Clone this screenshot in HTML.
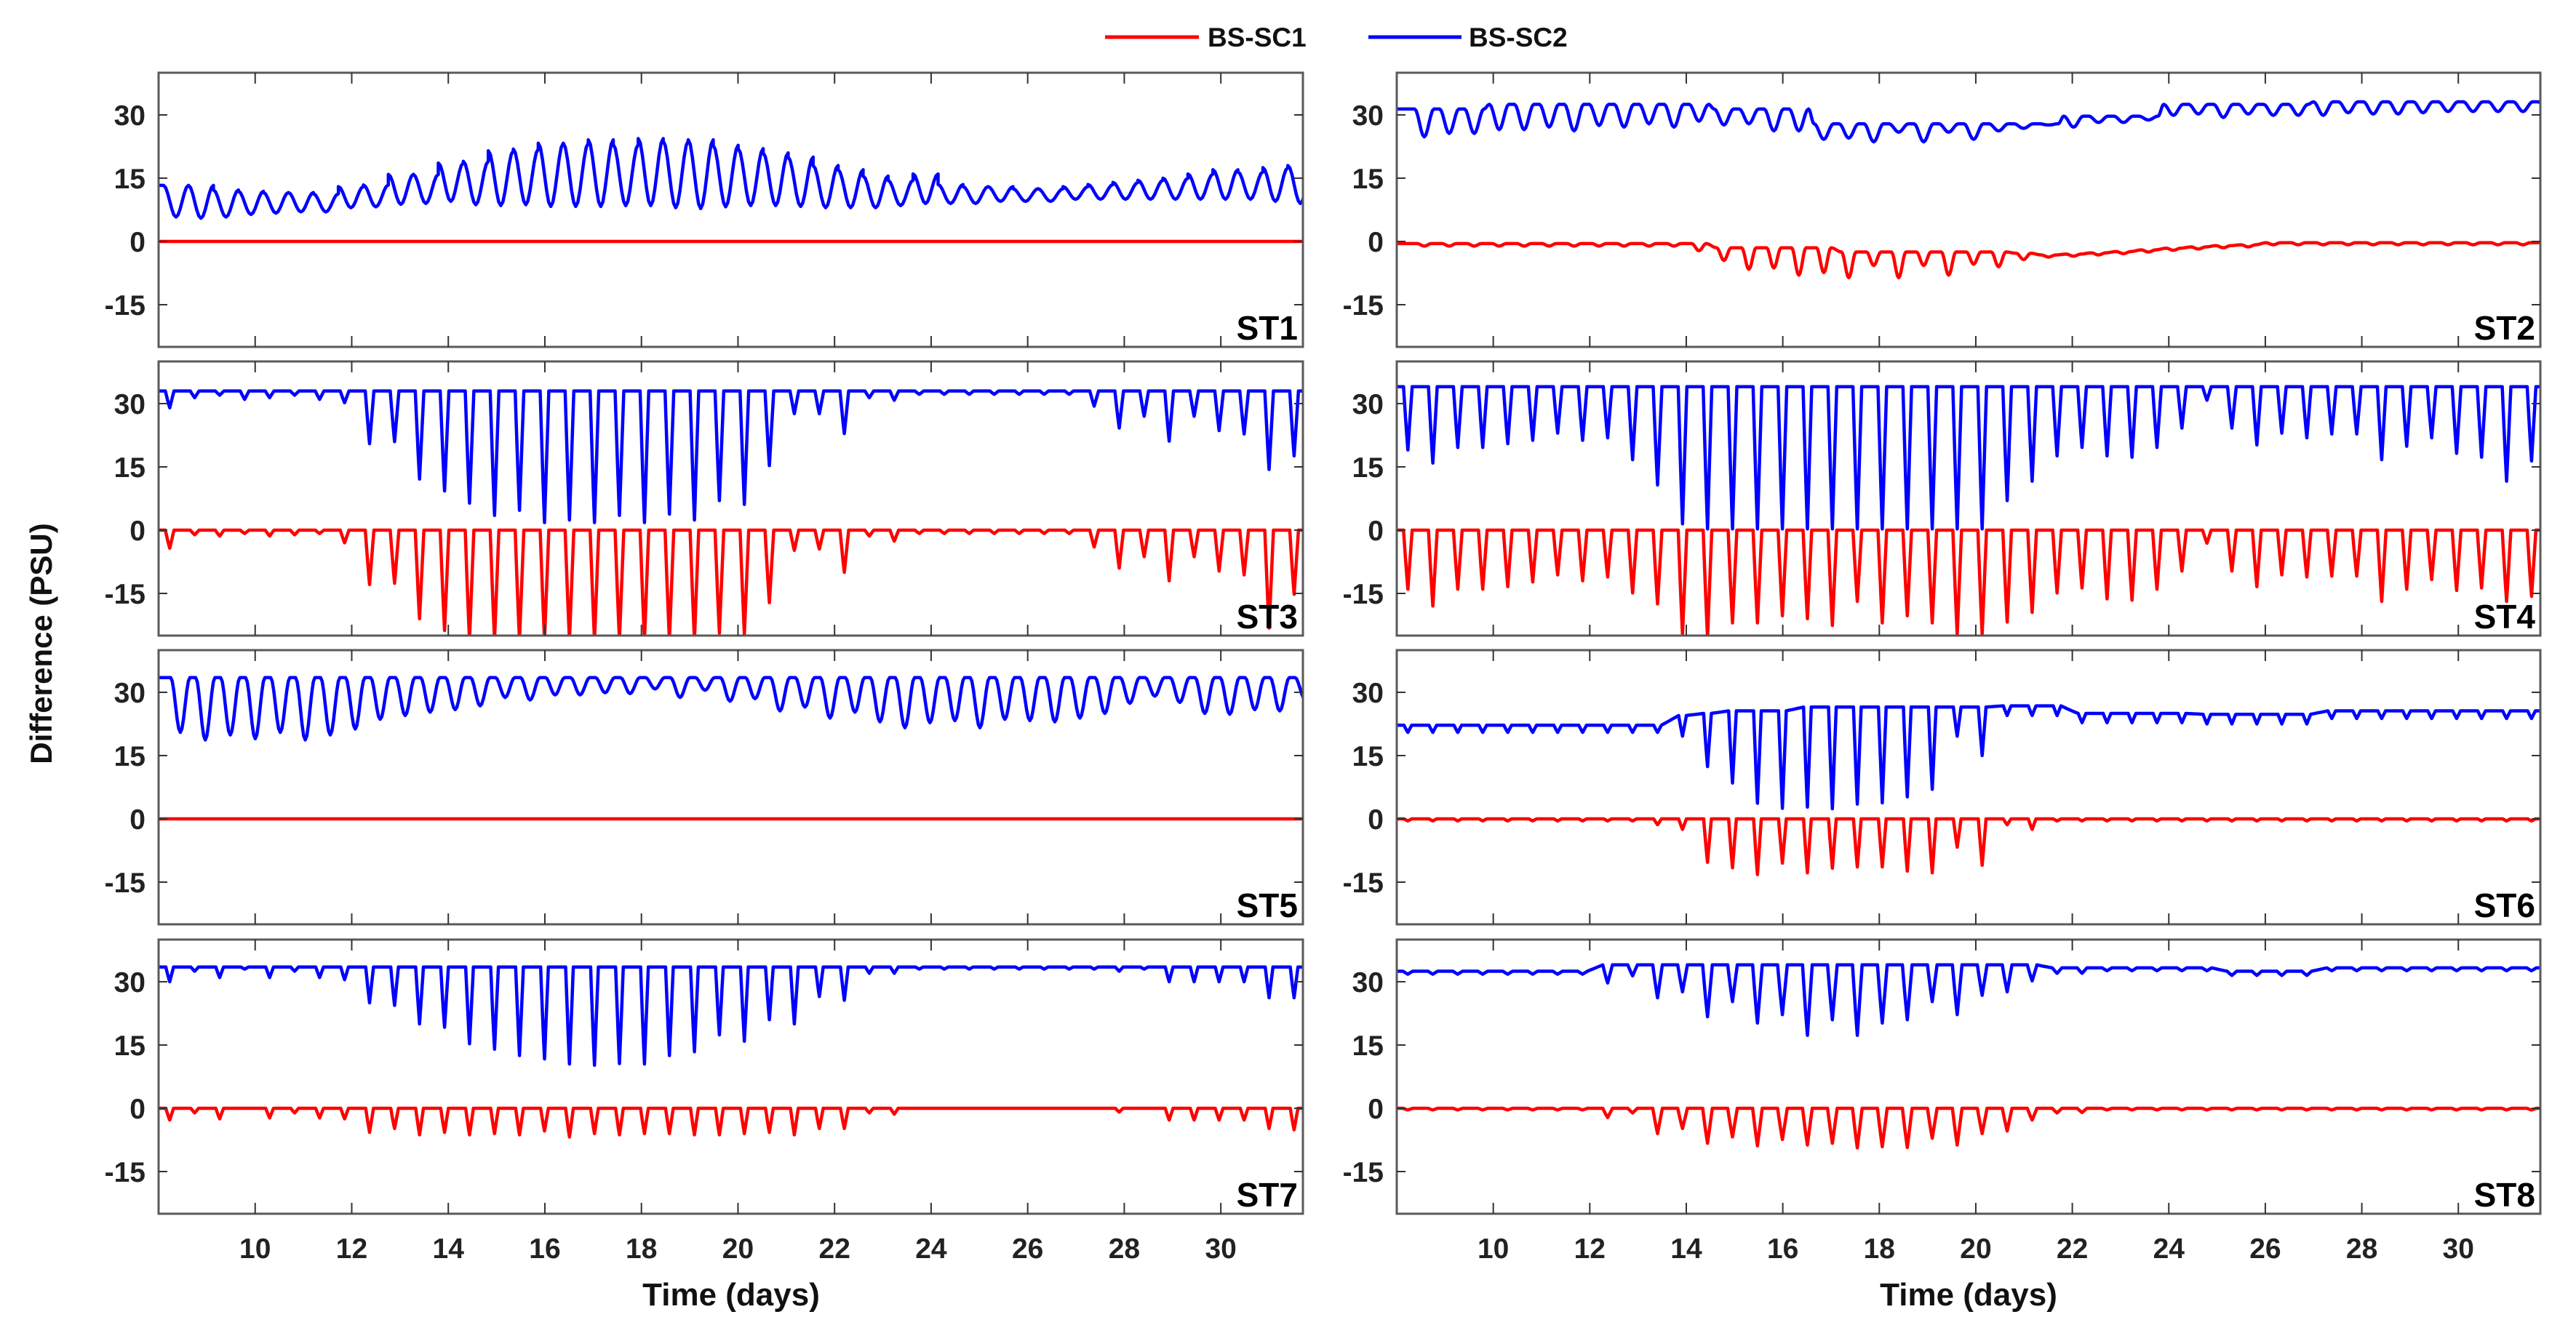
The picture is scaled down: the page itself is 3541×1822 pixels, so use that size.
<!DOCTYPE html>
<html><head><meta charset="utf-8">
<style>
html,body{margin:0;padding:0;background:#fff;}
svg{display:block;font-family:"Liberation Sans",Arial,sans-serif;}
</style></head>
<body>
<svg id="fig" width="3541" height="1822" viewBox="0 0 3541 1822" xmlns="http://www.w3.org/2000/svg">
  <rect x="0" y="0" width="3541" height="1822" fill="#fff"/>
  <g>
    <line x1="1519" y1="51" x2="1648" y2="51" stroke="#ff0000" stroke-width="5"/>
    <text x="1660" y="64" font-size="37" font-weight="bold" fill="#111">BS-SC1</text>
    <line x1="1881" y1="51" x2="2009" y2="51" stroke="#0000ff" stroke-width="5"/>
    <text x="2019" y="64" font-size="37" font-weight="bold" fill="#111">BS-SC2</text>
  </g>
  <text transform="translate(71,885) rotate(-90)" text-anchor="middle" font-size="42" font-weight="bold" fill="#111">Difference (PSU)</text>
  <text x="1005" y="1795" text-anchor="middle" font-size="44" font-weight="bold" fill="#111">Time (days)</text>
  <text x="2706" y="1795" text-anchor="middle" font-size="44" font-weight="bold" fill="#111">Time (days)</text>
  <g id="panels"></g>
</svg>
<script>
// x-axis domain / ticks
const xTicks = [10,12,14,16,18,20,22,24,26,28,30];
const yTicks = [-15,0,15,30];
const stations = ["ST1","ST2","ST3","ST4","ST5","ST6","ST7","ST8"];

// per-cycle values (tidal cycles k=0..45): base level and dip/trough level
const st1Sc2Base = [13.3,13.3,12.2,11.9,11.6,11.6,11.3,13,13.4,15.9,15.9,18.6,19,21.5,21.9,23.3,23.3,24.1,23,24.4,23.8,24.1,22.8,22,21,20,18,17,15.5,14.5,16,13.5,13,13,12.5,12.5,13,13.5,14,14.5,15,16,17,16.5,17.5,18];
const st1Sc2Dip = [5.8,5.5,5.8,6.4,6.7,7,7,8,8.2,8.8,9,9.5,8.7,8.5,8.7,8.3,8.3,8.3,8.5,8.5,8,7.8,8.2,8.5,8.5,8.3,8,8,8,8.5,9,9,9,9.5,9.5,9.5,10,10,10,10,10,10,10,10,9.5,9];
const st1Sc1Base = [0,0,0,0,0,0,0,0,0,0,0,0,0,0,0,0,0,0,0,0,0,0,0,0,0,0,0,0,0,0,0,0,0,0,0,0,0,0,0,0,0,0,0,0,0,0];
const st1Sc1Dip = [0,0,0,0,0,0,0,0,0,0,0,0,0,0,0,0,0,0,0,0,0,0,0,0,0,0,0,0,0,0,0,0,0,0,0,0,0,0,0,0,0,0,0,0,0,0];

const st2Sc2Base = [31.4,31.4,31.4,32.5,32.5,32.5,32.5,32.5,32.5,32.5,32.5,32.5,31.4,31.4,31.4,31.4,27.9,27.9,27.9,27.9,27.9,27.9,27.9,27.9,27.9,27.9,29.7,29.7,29.7,29.7,32.5,32.5,32.5,32.5,32.5,32.5,33.1,33.1,33.1,33.1,33.1,33.1,33.1,33.1,33.1,33.1];
const st2Sc2Dip = [24.8,25.6,25.6,26.5,26.5,27.1,26.2,27.5,27.1,27.9,27.1,28.5,27.6,27.9,26.2,26.2,24.2,24.5,23.6,25.9,23.6,25.9,24.2,26.2,26.8,27.6,27.1,28.2,28.2,28.8,29.9,30.2,29.4,30.2,29.9,29.9,29.9,30.5,30.2,30.2,30.5,30.8,30.8,30.8,30.8,30.8];
const st2Sc1Base = [-0.5,-0.5,-0.5,-0.5,-0.5,-0.5,-0.5,-0.5,-0.5,-0.5,-0.5,-0.5,-1.5,-1.5,-1.5,-1.5,-1.5,-2.5,-2.5,-2.5,-2.5,-2.5,-2.5,-2.5,-2.8,-3.2,-3,-2.7,-2.4,-2,-1.6,-1.3,-1,-0.8,-0.3,-0.3,-0.3,-0.3,-0.3,-0.3,-0.3,-0.3,-0.3,-0.3,-0.3,-0.3];
const st2Sc1Dip = [-1.1,-1.1,-1.1,-1.1,-1.1,-1.1,-1.1,-1.1,-1.1,-1.1,-1.1,-2.2,-4.5,-6.6,-6.3,-8,-7.4,-8.6,-5.7,-8.6,-5.7,-8,-5.4,-6,-4.3,-3.7,-3.5,-3.2,-2.9,-2.5,-2.1,-1.8,-1.5,-1.3,-0.8,-0.8,-0.8,-0.8,-0.8,-0.8,-0.8,-0.8,-0.8,-0.8,-0.8,-0.8];

const st3Sc2Base = [33,33,33,33,33,33,33,33,33,33,33,33,33,33,33,33,33,33,33,33,33,33,33,33,33,33,33,33,33,33,33,33,33,33,33,33,33,33,33,33,33,33,33,33,33,33];
const st3Sc2Dip = [29,31.4,32,31,31.4,32,31,30.2,20.5,21,12.1,9.3,6.4,3.5,4.7,1.8,2.4,1.8,3.5,1.8,3.8,2.4,7,6.1,15.3,27.6,27.6,22.9,31.4,30.8,32.2,32.2,32.2,32.2,32.2,32.2,32.2,29.4,24.2,27,21.1,27,23.6,22.8,14.4,17.6];
const st3Sc1Base = [0,0,0,0,0,0,0,0,0,0,0,0,0,0,0,0,0,0,0,0,0,0,0,0,0,0,0,0,0,0,0,0,0,0,0,0,0,0,0,0,0,0,0,0,0,0];
const st3Sc1Dip = [-4.3,-1.1,-1.4,-0.8,-1.4,-1.1,-0.8,-3,-12.9,-12.6,-21,-23.8,-26,-26,-26,-26,-26,-26,-26,-26,-26,-26,-24.4,-24.7,-17.2,-4.8,-4.5,-10,-1.4,-2.6,-0.8,-0.8,-0.8,-0.8,-0.8,-0.8,-0.8,-4,-9,-6.3,-12,-6.3,-9.7,-10.6,-23.2,-15.2];

const st4Sc2Base = [34,34,34,34,34,34,34,34,34,34,34,34,34,34,34,34,34,34,34,34,34,34,34,34,34,34,34,34,34,34,34,34,34,34,34,34,34,34,34,34,34,34,34,34,34,34];
const st4Sc2Dip = [19,15.9,19.6,19.6,20.5,21.3,23,21.3,21.9,16.7,10.7,1.5,0.3,0.3,0.3,0.3,0.3,0.3,0.3,0.3,0.3,0.3,0.3,0.3,7,11.6,17.6,19.6,17.6,17.3,19.6,24.2,30.8,24.2,20.2,23,21.9,22.8,22.8,16.7,19.9,21.9,18.2,17.3,11.6,16.4];
const st4Sc1Base = [0,0,0,0,0,0,0,0,0,0,0,0,0,0,0,0,0,0,0,0,0,0,0,0,0,0,0,0,0,0,0,0,0,0,0,0,0,0,0,0,0,0,0,0,0,0];
const st4Sc1Dip = [-14,-18,-14,-14,-13.4,-12.3,-10.6,-12,-11.1,-14.9,-17.5,-24.7,-25.5,-22,-22,-20.3,-21,-22.6,-16.9,-22,-20.3,-22,-24.7,-24.7,-21.8,-19.5,-14.9,-13.7,-16.3,-16.6,-14,-9.7,-3.1,-9.7,-13.4,-10.6,-11.1,-10.9,-10.9,-16.9,-14,-11.7,-14.3,-13.7,-16.9,-15.7];

const st5Sc2Base = [33.5,33.5,33.5,33.5,33.5,33.5,33.5,33.5,33.5,33.5,33.5,33.5,33.5,33.5,33.5,33.5,33.5,33.5,33.5,33.5,33.5,33.5,33.5,33.5,33.5,33.5,33.5,33.5,33.5,33.5,33.5,33.5,33.5,33.5,33.5,33.5,33.5,33.5,33.5,33.5,33.5,33.5,33.5,33.5,33.5,33.5];
const st5Sc2Dip = [20.5,18.7,19.9,19,20.5,18.7,19.9,21.3,23.6,24.5,25.3,25.9,26.8,28.8,28.2,29.4,29.4,29.9,29.7,30.8,28.8,30.5,27.9,28.5,25.6,26.5,23.9,25.3,23,21.6,22.8,23.3,21.6,23.6,23.3,23,23.9,25,27.4,29.1,27.6,25,24.8,25.9,25.6,28.5];
const st5Sc1Base = [0,0,0,0,0,0,0,0,0,0,0,0,0,0,0,0,0,0,0,0,0,0,0,0,0,0,0,0,0,0,0,0,0,0,0,0,0,0,0,0,0,0,0,0,0,0];
const st5Sc1Dip = [0,0,0,0,0,0,0,0,0,0,0,0,0,0,0,0,0,0,0,0,0,0,0,0,0,0,0,0,0,0,0,0,0,0,0,0,0,0,0,0,0,0,0,0,0,0];

const st6Sc2Base = [22.2,22.2,22.2,22.2,22.2,22.2,22.2,22.2,22.2,22.2,22.2,24.5,25,25.6,25.6,25.6,26.5,26.5,26.5,26.5,26.5,26.5,26.5,26.5,26.8,26.8,26.8,25,25,25,25,25,24.8,24.8,24.8,24.8,24.8,25.6,25.6,25.6,25.6,25.6,25.6,25.6,25.6,25.6];
const st6Sc2Dip = [20.5,20.5,20.5,20.5,20.5,20.5,20.5,20.5,20.5,20.5,20.5,19.6,12.4,8.5,3.7,2.5,2.8,2.4,3.5,3.8,5.2,7,19.6,15,24.5,24.5,24.5,22.8,22.8,22.8,22.8,22.8,22.5,22.5,22.5,22.5,22.5,23.8,23.8,23.8,23.8,23.8,23.8,23.8,23.8,23.8];
const st6Sc1Base = [0,0,0,0,0,0,0,0,0,0,0,0,0,0,0,0,0,0,0,0,0,0,0,0,0,0,0,0,0,0,0,0,0,0,0,0,0,0,0,0,0,0,0,0,0,0];
const st6Sc1Dip = [-0.5,-0.5,-0.5,-0.5,-0.5,-0.5,-0.5,-0.5,-0.5,-0.5,-1.4,-2.5,-10.3,-11.6,-13.2,-10.5,-12.8,-11.7,-11.4,-11.4,-12.4,-12.8,-6.7,-11,-1.4,-2.5,-0.5,-0.5,-0.5,-0.5,-0.5,-0.5,-0.5,-0.5,-0.5,-0.5,-0.5,-0.5,-0.5,-0.5,-0.5,-0.5,-0.5,-0.5,-0.5,-0.5];

const st7Sc2Base = [33.5,33.5,33.5,33.5,33.5,33.5,33.5,33.5,33.5,33.5,33.5,33.5,33.5,33.5,33.5,33.5,33.5,33.5,33.5,33.5,33.5,33.5,33.5,33.5,33.5,33.5,33.5,33.5,33.5,33.5,33.5,33.5,33.5,33.5,33.5,33.5,33.5,33.5,33.5,33.5,33.5,33.5,33.5,33.5,33.5,33.5];
const st7Sc2Dip = [30,32.5,31,33,31,32.5,31,30.5,25,24.4,20,19.2,15.3,14,12.5,11.7,10.5,10.2,10.6,10.5,12.5,13.4,17.4,15.9,21,20,26.5,25.6,32,32,33,33,33,33,33,33,33,33,32.5,33,30,30,30,30,26.2,26.2];
const st7Sc1Base = [0,0,0,0,0,0,0,0,0,0,0,0,0,0,0,0,0,0,0,0,0,0,0,0,0,0,0,0,0,0,0,0,0,0,0,0,0,0,0,0,0,0,0,0,0,0];
const st7Sc1Dip = [-2.8,-1.1,-2.5,0,-2.3,-1.1,-2.3,-2.5,-5.7,-4.8,-6.3,-5.7,-6.3,-6,-6.3,-5.4,-6.8,-6,-6.3,-6,-6,-6.3,-6.3,-6,-5.7,-6.3,-4.8,-4.8,-1.1,-1.4,0,0,0,0,0,0,0,0,-0.9,0,-2.8,-2.8,-2.8,-2.8,-4.8,-5.1];

const st8Sc2Base = [32.5,32.5,32.5,32.5,32.5,32.5,32.5,32.5,34,34,34,34,34,34,34,34,34,34,34,34,34,34,34,34,34,34,33.3,33.3,33.3,33.3,33.3,33.3,33.3,32.5,32.5,32.5,32.5,33.3,33.3,33.3,33.3,33.3,33.3,33.3,33.3,33.3];
const st8Sc2Dip = [31.8,31.8,31.8,31.8,31.8,31.8,31.8,31.8,29.7,31.4,26.2,27.6,21.7,25.3,20.2,22.2,17.3,21,17.3,20.2,21,25.3,22.2,26.8,27.6,30.2,32,32,32.6,32.6,32.6,32.6,32.6,31.5,31.5,31.5,31.5,32.6,32.6,32.6,32.6,32.6,32.6,32.6,32.6,32.6];
const st8Sc1Base = [0,0,0,0,0,0,0,0,0,0,0,0,0,0,0,0,0,0,0,0,0,0,0,0,0,0,0,0,0,0,0,0,0,0,0,0,0,0,0,0,0,0,0,0,0,0];
const st8Sc1Dip = [-0.4,-0.4,-0.4,-0.4,-0.4,-0.4,-0.4,-0.4,-2.2,-1.1,-6,-4.8,-8.3,-6.8,-8.9,-7.4,-8.7,-8.3,-9.4,-9.1,-9.3,-7.1,-8.7,-6,-5.4,-2.8,-1.1,-1,-0.4,-0.4,-0.4,-0.4,-0.4,-0.4,-0.4,-0.4,-0.4,-0.4,-0.4,-0.4,-0.4,-0.4,-0.4,-0.4,-0.4,-0.4];

const sc2Base = [st1Sc2Base,st2Sc2Base,st3Sc2Base,st4Sc2Base,st5Sc2Base,st6Sc2Base,st7Sc2Base,st8Sc2Base];
const sc2Dip = [st1Sc2Dip,st2Sc2Dip,st3Sc2Dip,st4Sc2Dip,st5Sc2Dip,st6Sc2Dip,st7Sc2Dip,st8Sc2Dip];
const sc1Base = [st1Sc1Base,st2Sc1Base,st3Sc1Base,st4Sc1Base,st5Sc1Base,st6Sc1Base,st7Sc1Base,st8Sc1Base];
const sc1Dip = [st1Sc1Dip,st2Sc1Dip,st3Sc1Dip,st4Sc1Dip,st5Sc1Dip,st6Sc1Dip,st7Sc1Dip,st8Sc1Dip];

// layout / styling (not data)
const X0 = 8.0, X1 = 31.7, Y0 = -25, Y1 = 40;
const PERIOD = 0.5175, T0 = 8.23;
const colLeft = [218, 1920], colRight = [1791, 3492];
const rowTop = [100, 497, 894, 1292], rowH = 377;
// shape: [offset, half-width, easing] per station per series
const sc2Shape = [[0.13,0.259,1],[0.34,0.2,1],[0,0.09,0],[0,0.09,0],[0.22,0.2,1],[0,0.08,0],[0,0.08,0],[0,0.1,0]];
const sc1Shape = [[0,0.08,0],[0.34,0.15,1],[0,0.09,0],[0,0.09,0],[0,0.08,0],[0,0.08,0],[0,0.08,0],[0,0.1,0]];

const NS = "http://www.w3.org/2000/svg";
const root = document.getElementById("panels");
function mk(tag, attrs, parent){
  const e = document.createElementNS(NS, tag);
  for (const k in attrs) e.setAttribute(k, attrs[k]);
  parent.appendChild(e);
  return e;
}

stations.forEach((name, i) => {
  const col = i % 2, row = Math.floor(i / 2);
  const L = colLeft[col], R = colRight[col], T = rowTop[row], B = T + rowH;
  const xs = t => L + (t - X0) / (X1 - X0) * (R - L);
  const ys = v => T + (Y1 - v) / (Y1 - Y0) * rowH;

  const g = mk("g", {}, root);
  
  

  const clip = mk("clipPath", {id: "clip" + i}, g);
  mk("rect", {x: L, y: T, width: R - L, height: rowH}, clip);

  function series(base, dip, shape, color, label){
    const key = [[X0, base[0]]];
    for (let k = 0; k < base.length; k++){
      const tc = T0 + k * PERIOD + shape[0];
      key.push([tc - shape[1], base[k]]);
      key.push([tc, dip[k]]);
      key.push([tc + shape[1], base[k]]);
    }
    key.push([X1, base[base.length - 1]]);
    const pts = [];
    for (let j = 0; j < key.length - 1; j++){
      const a = key[j], b = key[j + 1];
      const n = 6;
      for (let s = 0; s < n; s++){
        const u = s / n;
        let e;
        if (shape[2] === 1) e = (1 - Math.cos(Math.PI * u)) / 2;
        else e = (a[1] > b[1]) ? Math.sin(u * Math.PI / 2) * 0.15 + u * 0.85 : u;
        pts.push([xs(a[0] + (b[0] - a[0]) * u), ys(a[1] + (b[1] - a[1]) * e)]);
      }
    }
    const last = key[key.length - 1];
    pts.push([xs(last[0]), ys(last[1])]);
    const p = mk("polyline", {points: pts.map(q => q[0].toFixed(1) + "," + q[1].toFixed(1)).join(" "),
      fill: "none", stroke: color, "stroke-width": 4.5, "stroke-linejoin": "round", "clip-path": "url(#clip" + i + ")"}, g);
    
    
  }
  series(sc2Base[i], sc2Dip[i], sc2Shape[i], "#0000ff", name.toLowerCase() + "-bs-sc2-line");
  series(sc1Base[i], sc1Dip[i], sc1Shape[i], "#ff0000", name.toLowerCase() + "-bs-sc1-line");

  const frame = mk("rect", {x: L, y: T, width: R - L, height: rowH, fill: "none", stroke: "#5a5a5a", "stroke-width": 3}, g);
  
  

  xTicks.forEach(t => {
    const x = xs(t);
    mk("line", {x1: x, y1: T, x2: x, y2: T + 15, stroke: "#333", "stroke-width": 2}, g);
    mk("line", {x1: x, y1: B, x2: x, y2: B - 15, stroke: "#333", "stroke-width": 2}, g);
    if (row === 3){
      const tl = mk("text", {x: x, y: 1730, "text-anchor": "middle", "font-size": 39, "font-weight": "bold", fill: "#222"}, g);
      tl.textContent = t;
      
      
    }
  });
  yTicks.forEach(v => {
    const y = ys(v);
    mk("line", {x1: L, y1: y, x2: L + 12, y2: y, stroke: "#333", "stroke-width": 2}, g);
    mk("line", {x1: R, y1: y, x2: R - 12, y2: y, stroke: "#333", "stroke-width": 2}, g);
    const yl = mk("text", {x: L - 18, y: y + 14, "text-anchor": "end", "font-size": 39, "font-weight": "bold", fill: "#222"}, g);
    yl.textContent = v;
    
    
  });
  const st = mk("text", {x: R - 7, y: B - 10, "text-anchor": "end", "font-size": 46, "font-weight": "bold", fill: "#000"}, g);
  st.textContent = name;
  
  
});
</script>
</body></html>
